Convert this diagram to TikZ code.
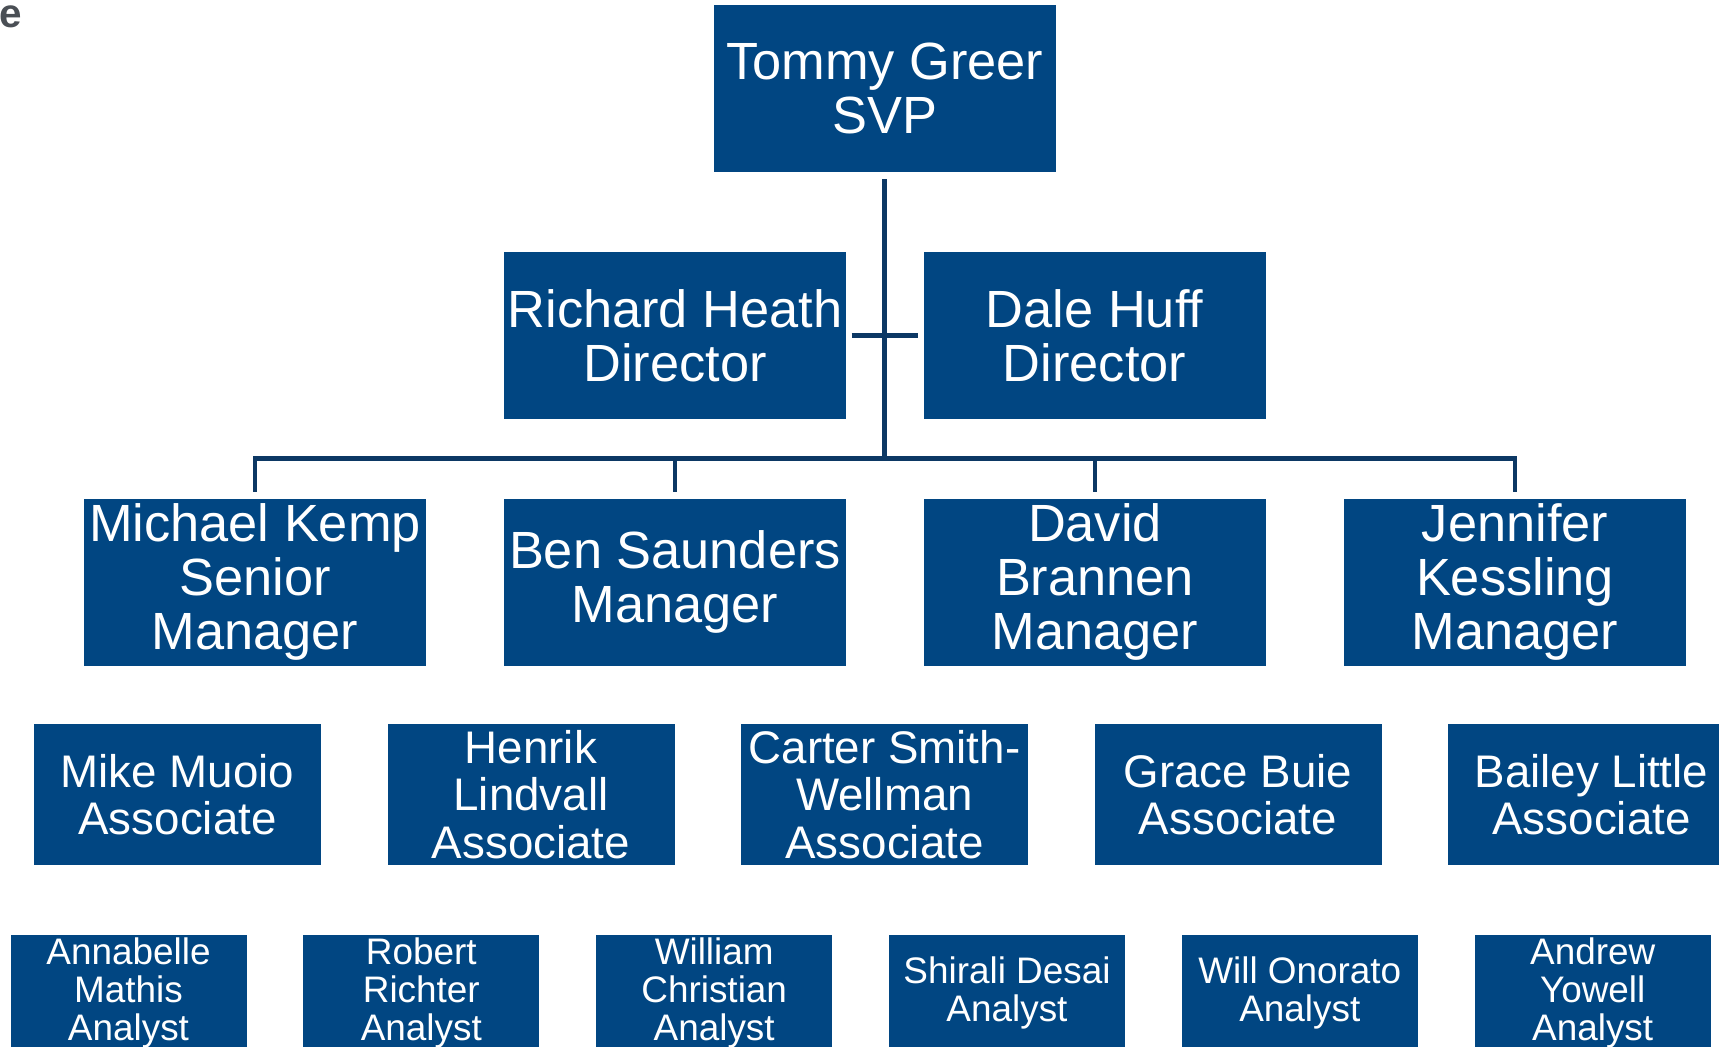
\documentclass[tikz,border=0pt]{standalone}
\usepackage{fontspec}
\setmainfont{Liberation Sans}
\definecolor{boxblue}{RGB}{1,70,130}
\definecolor{lineblue}{RGB}{12,56,100}
\definecolor{tagGray}{RGB}{74,79,85}

\begin{document}
\begin{tikzpicture}[
  chartbox/.style={fill=boxblue,text=white,align=center,inner sep=0pt},
  bigbox/.style={chartbox,minimum width=3.42cm,minimum height=1.67cm,font=\fontsize{14.9}{15.3}\selectfont},
  assocbox/.style={chartbox,minimum width=2.87cm,minimum height=1.41cm,font=\fontsize{13}{13.5}\selectfont},
  analystbox/.style={chartbox,minimum width=2.36cm,minimum height=1.16cm,font=\fontsize{10.5}{10.7}\selectfont},
  conn/.style={draw=lineblue,line width=1.42pt}
]
\clip (0,0) rectangle (17.19,-10.47);

\node[anchor=base west,inner sep=0pt,text=tagGray,font=\fontsize{11.5}{12}\selectfont\bfseries] (tag) at (-0.01,-0.27) {e};

% top and directors
\node[bigbox] (svp) at (8.848,-0.888) {Tommy Greer\\SVP};
\node[bigbox] (rh) at (6.75,-3.355) {Richard Heath\\Director};
\node[bigbox] (dh) at (10.946,-3.355) {Dale Huff\\Director};

% managers
\node[bigbox] (m1) at (2.55,-5.82) {Michael Kemp\\Senior\\Manager};
\node[bigbox] (m2) at (6.75,-5.82) {Ben Saunders\\Manager};
\node[bigbox] (m3) at (10.95,-5.82) {David\\Brannen\\Manager};
\node[bigbox] (m4) at (15.15,-5.82) {Jennifer\\Kessling\\Manager};

% associates
\node[assocbox] (a1) at (1.775,-7.945) {Mike Muoio\\Associate};
\node[assocbox] (a2) at (5.31,-7.945) {Henrik\\Lindvall\\Associate};
\node[assocbox] (a3) at (8.845,-7.945) {Carter Smith-\\Wellman\\Associate};
\node[assocbox] (a4) at (12.38,-7.945) {Grace Buie\\Associate};
\node[assocbox] (a5) at (15.915,-7.945) {Bailey Little\\Associate};

% analysts
\node[analystbox] (n1) at (1.285,-9.93) {Annabelle\\Mathis\\Analyst};
\node[analystbox] (n2) at (4.213,-9.93) {Robert\\Richter\\Analyst};
\node[analystbox] (n3) at (7.142,-9.93) {William\\Christian\\Analyst};
\node[analystbox] (n4) at (10.07,-9.93) {Shirali Desai\\Analyst};
\node[analystbox] (n5) at (12.998,-9.93) {Will Onorato\\Analyst};
\node[analystbox] (n6) at (15.927,-9.93) {Andrew\\Yowell\\Analyst};

% connectors
\coordinate (bus) at (8.848,-4.58);
\draw[conn,shorten <=0.06cm] (svp.south) -- (bus);
\draw[conn,shorten <=0.05cm,shorten >=0.05cm] (rh.east) -- (dh.west);
\foreach \m in {m1,m2,m3,m4}
  \draw[conn,shorten >=0.06cm] (bus) -| (\m.north);

\end{tikzpicture}
\end{document}
